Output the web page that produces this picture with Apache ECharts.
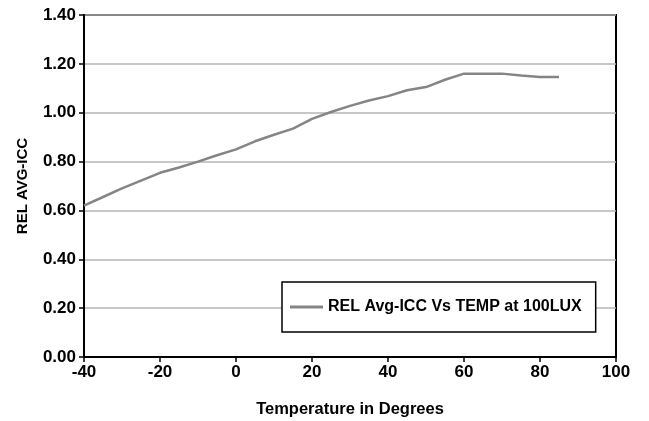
<!DOCTYPE html>
<html><head><meta charset="utf-8">
<script src="https://cdn.jsdelivr.net/npm/echarts@6/dist/echarts.min.js"></script>
<style>html,body{margin:0;padding:0;background:#fff}#c{width:649px;height:421px}</style>
</head><body><div id="c"></div>
<script>
const temps = [-40,-35,-30,-25,-20,-15,-10,-5,0,5,10,15,20,25,30,35,40,45,50,55,60,65,70,75,80,85];
const relIcc = [0.62,0.655,0.69,0.722,0.754,0.776,0.800,0.826,0.850,0.883,0.910,0.935,0.975,1.003,1.028,1.050,1.068,1.092,1.105,1.135,1.160,1.160,1.160,1.152,1.146,1.146];
const seriesName = 'REL Avg-ICC Vs TEMP at 100LUX';
const xName = 'Temperature in Degrees';
const yName = 'REL AVG-ICC';
const font = '"Liberation Sans", Arial, sans-serif';
const chart = echarts.init(document.getElementById('c'), null, {renderer:'canvas'});
chart.setOption({
  animation:false,
  backgroundColor:'#fff',
  grid:{left:84,right:33,top:15,bottom:64,show:true,borderColor:'#000',borderWidth:2,backgroundColor:'transparent',containLabel:false,outerBoundsMode:'none'},
  legend:{
    left:282, top:282, orient:'horizontal',
    backgroundColor:'#fff', borderColor:'#000', borderWidth:1.5, borderRadius:0,
    padding:[17,14,17,8], itemWidth:33, itemHeight:3, itemGap:10,
    textStyle:{fontFamily:font,fontWeight:'bold',fontSize:16,color:'#000'},
    data:[{name:seriesName, icon:'rect'}]
  },
  xAxis:{
    type:'value', min:-40, max:100, interval:20,
    name:xName, nameLocation:'middle', nameGap:44,
    nameTextStyle:{fontFamily:font,fontWeight:'bold',fontSize:16.5,color:'#000'},
    axisLine:{show:true,onZero:false,lineStyle:{color:'#000',width:2}},
    axisTick:{show:true,inside:false,length:5,lineStyle:{color:'#000',width:1.5}},
    axisLabel:{fontFamily:font,fontWeight:'bold',fontSize:17,color:'#000',margin:7},
    splitLine:{show:false}
  },
  yAxis:{
    type:'value', min:0, max:1.4, interval:0.2,
    name:yName, nameLocation:'middle', nameGap:54, nameRotate:90,
    nameTextStyle:{fontFamily:font,fontWeight:'bold',fontSize:15,color:'#000'},
    axisLine:{show:true,onZero:false,lineStyle:{color:'#000',width:2}},
    axisTick:{show:true,inside:false,length:5,lineStyle:{color:'#000',width:1.5}},
    axisLabel:{fontFamily:font,fontWeight:'bold',fontSize:17,color:'#000',margin:8,formatter:v=>v.toFixed(2)},
    splitLine:{show:true,lineStyle:{color:'#b4b4b4',width:1.5}}
  },
  series:[{
    name:seriesName, type:'line', symbol:'none',
    data: temps.map((t,i)=>[t,relIcc[i]]),
    lineStyle:{color:'#858585',width:2.5},
    itemStyle:{color:'#858585'}
  }]
});
</script></body></html>
